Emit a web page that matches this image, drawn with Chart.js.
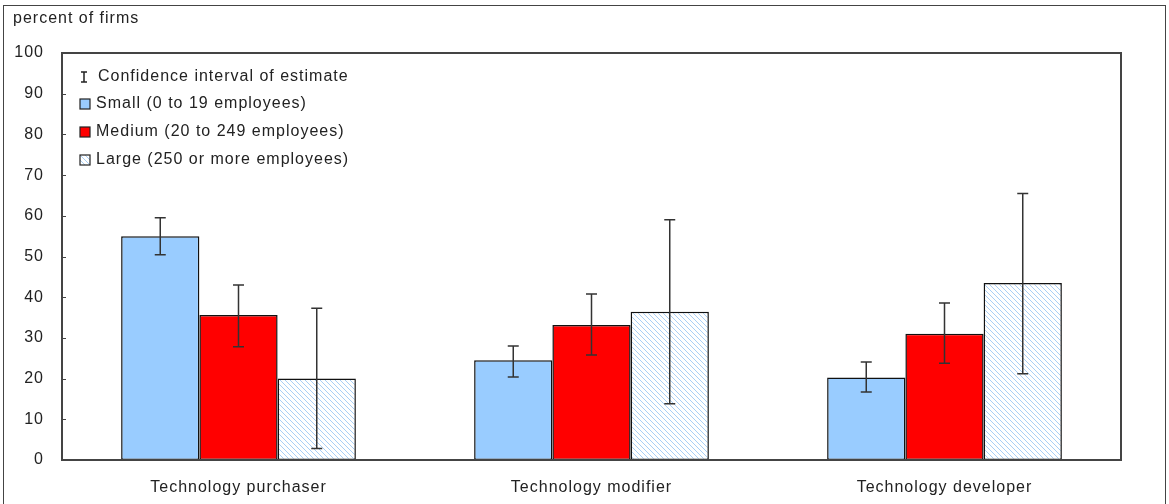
<!DOCTYPE html>
<html>
<head>
<meta charset="utf-8">
<script src="https://cdn.jsdelivr.net/npm/chart.js@4"></script>
<style>
  body { margin: 0; background: #fff; }
  #frame { position: absolute; left: 3px; top: 5px; width: 1161px; height: 520px; border: 1px solid #444; }
  #wrap { position: absolute; left: 0; top: 0; width: 1169px; height: 504px; }
</style>
</head>
<body>
<div id="frame"></div>
<div id="wrap"><canvas id="chart" width="1169" height="504"></canvas></div>
<script>
const categories = ['Technology purchaser', 'Technology modifier', 'Technology developer'];
const seriesLabels = ['Small (0 to 19 employees)', 'Medium (20 to 249 employees)', 'Large (250 or more employees)'];
const small = [55, 24.5, 20.3];
const smallLow = [50.4, 20.4, 16.7];
const smallHigh = [59.5, 28, 24.1];
const medium = [35.6, 33.2, 31];
const mediumLow = [27.8, 25.8, 23.8];
const mediumHigh = [43, 40.8, 38.6];
const large = [20, 36.4, 43.5];
const largeLow = [2.8, 13.8, 21.2];
const largeHigh = [37.3, 59, 65.5];
const yTicks = [0, 10, 20, 30, 40, 50, 60, 70, 80, 90, 100];

const FONT = 'Liberation Sans, Arial, sans-serif';
const FSIZE = 16;
const SPACING = '1px';

function hatch() {
  const c = document.createElement('canvas');
  c.width = 5; c.height = 5;
  const g = c.getContext('2d');
  g.fillStyle = '#fff';
  g.fillRect(0, 0, 5, 5);
  g.strokeStyle = '#a9cff5';
  g.lineWidth = 1;
  g.beginPath();
  g.moveTo(-1, -1); g.lineTo(6, 6);
  g.moveTo(-1, 4); g.lineTo(1, 6);
  g.moveTo(4, -1); g.lineTo(6, 1);
  g.stroke();
  return g.createPattern(c, 'repeat');
}
const hatchFill = hatch();

const errors = [[smallLow, smallHigh], [mediumLow, mediumHigh], [largeLow, largeHigh]];

// wide letter spacing like the original rendering
const spacing = {
  id: 'spacing',
  beforeUpdate(chart) { chart.ctx.letterSpacing = SPACING; },
  beforeLayout(chart) { chart.ctx.letterSpacing = SPACING; },
  beforeDraw(chart) { chart.ctx.letterSpacing = SPACING; }
};

const errorBars = {
  id: 'errorBars',
  afterDatasetsDraw(chart) {
    const ctx = chart.ctx;
    const y = chart.scales.y;
    ctx.save();
    ctx.strokeStyle = '#333';
    ctx.lineWidth = 1.5;
    chart.data.datasets.forEach((ds, di) => {
      const meta = chart.getDatasetMeta(di);
      meta.data.forEach((bar, i) => {
        const lo = y.getPixelForValue(errors[di][0][i]);
        const hi = y.getPixelForValue(errors[di][1][i]);
        ctx.beginPath();
        ctx.moveTo(bar.x, lo); ctx.lineTo(bar.x, hi);
        ctx.moveTo(bar.x - 5.5, lo); ctx.lineTo(bar.x + 5.5, lo);
        ctx.moveTo(bar.x - 5.5, hi); ctx.lineTo(bar.x + 5.5, hi);
        ctx.stroke();
      });
    });
    ctx.restore();
  }
};

const frame = {
  id: 'frame',
  afterDraw(chart) {
    const { ctx, chartArea: a } = chart;
    const y = chart.scales.y;
    ctx.save();
    ctx.letterSpacing = SPACING;
    ctx.strokeStyle = '#444';
    ctx.lineWidth = 2;
    ctx.strokeRect(a.left, a.top, a.right - a.left, a.bottom - a.top);
    ctx.lineWidth = 1;
    yTicks.forEach(v => {
      const py = Math.round(y.getPixelForValue(v)) + 0.5;
      ctx.beginPath();
      ctx.moveTo(a.left, py); ctx.lineTo(a.left + 4, py);
      ctx.stroke();
    });
    // title
    ctx.fillStyle = '#222';
    ctx.font = FSIZE + 'px ' + FONT;
    ctx.textBaseline = 'middle';
    ctx.fillText('percent of firms', 13, 19);
    // legend
    const lx = 80, rows = [77, 104, 132, 160];
    ctx.strokeStyle = '#222';
    ctx.lineWidth = 1.5;
    ctx.beginPath();
    ctx.moveTo(84, rows[0] - 5); ctx.lineTo(84, rows[0] + 5);
    ctx.moveTo(81, rows[0] - 5); ctx.lineTo(87, rows[0] - 5);
    ctx.moveTo(81, rows[0] + 5); ctx.lineTo(87, rows[0] + 5);
    ctx.stroke();
    ctx.fillText('Confidence interval of estimate', 98, rows[0]);
    chart.data.datasets.forEach((ds, i) => {
      const ry = rows[i + 1];
      ctx.fillStyle = ds.backgroundColor;
      ctx.fillRect(lx, ry - 5, 10, 10);
      ctx.lineWidth = 1.2;
      ctx.strokeStyle = '#222';
      ctx.strokeRect(lx, ry - 5, 10, 10);
      ctx.fillStyle = '#222';
      ctx.fillText(ds.label, 96, ry);
    });
    ctx.restore();
  }
};

new Chart(document.getElementById('chart'), {
  type: 'bar',
  data: {
    labels: categories,
    datasets: [
      { label: seriesLabels[0], data: small, backgroundColor: '#99ccff' },
      { label: seriesLabels[1], data: medium, backgroundColor: '#ff0000' },
      { label: seriesLabels[2], data: large, backgroundColor: hatchFill }
    ]
  },
  options: {
    responsive: false,
    animation: false,
    layout: { padding: { left: 0, top: 53, right: 48, bottom: 0 } },
    datasets: {
      bar: {
        categoryPercentage: 0.665,
        barPercentage: 1.0,
        borderColor: '#111',
        borderWidth: 1.5,
        borderSkipped: false
      }
    },
    plugins: {
      legend: { display: false },
      tooltip: { enabled: false }
    },
    scales: {
      x: {
        grid: { display: false, drawTicks: false },
        border: { display: false },
        ticks: { color: '#222', font: { family: FONT, size: FSIZE }, padding: 18 },
        afterFit(s) { s.height = 44; }
      },
      y: {
        min: 0, max: 100,
        afterBuildTicks(s) { s.ticks = yTicks.map(v => ({ value: v })); },
        grid: { display: false, drawTicks: false },
        border: { display: false },
        ticks: { color: '#222', font: { family: FONT, size: FSIZE }, padding: 18 },
        afterFit(s) { s.width = 62; }
      }
    }
  },
  plugins: [spacing, errorBars, frame]
});
</script>
</body>
</html>
